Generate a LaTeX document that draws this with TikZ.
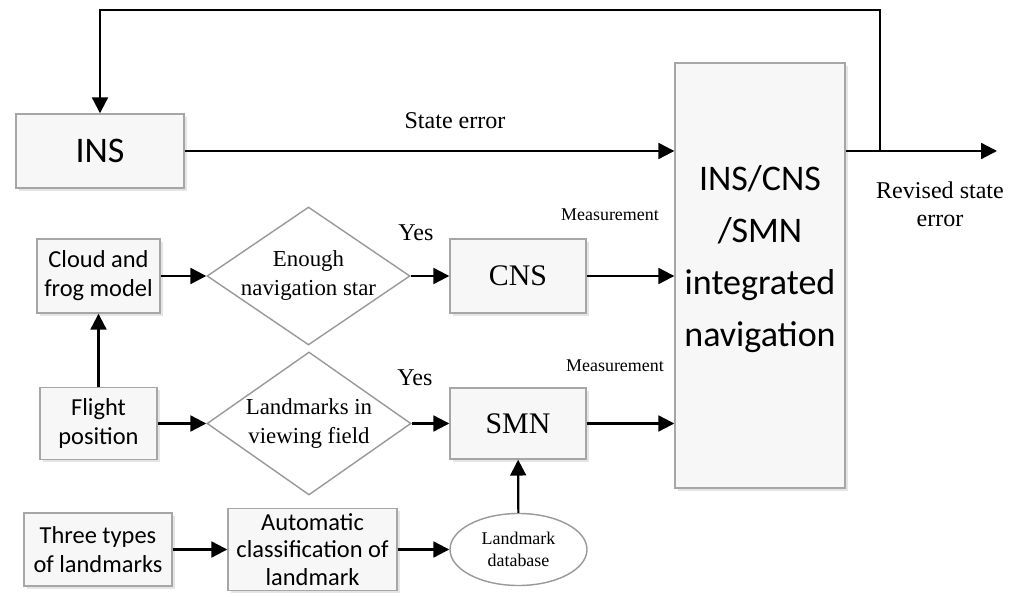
\documentclass[tikz,border=0pt]{standalone}
\usepackage{fontspec}
\setmainfont{Liberation Serif}
\newfontfamily\boxfont{Carlito}
\usetikzlibrary{shapes.geometric,arrows.meta,shadows}

\begin{document}
\begin{tikzpicture}[
  box/.style={draw=gray!70,fill=gray!6,line width=0.8pt,align=center,inner sep=2pt,
    drop shadow={shadow xshift=1.5pt,shadow yshift=-1.5pt,fill=gray!50,opacity=0.4}},
  sansbox/.style={box,font=\boxfont\fontsize{13.9}{16.5}\selectfont},
  serifbox/.style={box,font=\fontsize{17}{20}\selectfont},
  decision/.style={diamond,draw=gray!80,line width=0.8pt,inner sep=-4pt,align=center,
    font=\fontsize{13}{16.5}\selectfont},
  arr/.style={-{Triangle[length=9pt,width=9pt]},line width=1.25pt},
  small/.style={font=\fontsize{10.2}{12.5}\selectfont,align=center},
  lbl/.style={font=\fontsize{13.7}{16}\selectfont,align=center}
]
\useasboundingbox (0,0) rectangle (20.38,11.92);
% main blocks
\node[box,minimum width=3.36cm,minimum height=1.48cm,font=\boxfont\fontsize{20.5}{24}\selectfont] (ins) at (2.0,8.90) {INS};
\node[box,minimum width=3.4cm,minimum height=8.5cm] (integ) at (15.2,6.41) {};
\node[align=center,font=\boxfont\fontsize{20.5}{29.6}\selectfont] (integtext) at (15.2,6.73) {INS/CNS\\/SMN\\integrated\\navigation};
% left column
\node[sansbox,minimum width=2.46cm,minimum height=1.48cm] (cloud) at (1.97,6.40) {Cloud and\\frog model};
\node[sansbox,minimum width=2.34cm,minimum height=1.44cm] (flight) at (1.97,3.45) {Flight\\position};
\node[sansbox,minimum width=2.96cm,minimum height=1.46cm] (three) at (1.96,0.93) {Three types\\of landmarks};
\node[sansbox,minimum width=3.38cm,minimum height=1.64cm,inner sep=0pt,font=\boxfont\fontsize{13.9}{15.6}\selectfont] (auto) at (6.25,0.93) {Automatic\\classification of\\landmark};
% decisions
\node[decision,aspect=1.47,minimum width=4.06cm,minimum height=2.76cm] (enough) at (6.17,6.40) {Enough\\navigation star};
\node[decision,aspect=1.43,minimum width=4.08cm,minimum height=2.86cm] (landm) at (6.18,3.45) {Landmarks in\\viewing field};
% sensors
\node[serifbox,minimum width=2.72cm,minimum height=1.48cm] (cns) at (10.36,6.40) {CNS};
\node[serifbox,minimum width=2.72cm,minimum height=1.42cm] (smn) at (10.36,3.45) {SMN};
\node[ellipse,draw=gray!80,line width=0.8pt,fill=white,minimum width=2.74cm,minimum height=1.44cm,inner sep=0pt,small] (db) at (10.37,0.93) {Landmark\\database};
% labels
\node[lbl] (staterr) at (9.1,9.5) {State error};
\node[lbl] (yes1) at (8.32,7.26) {Yes};
\node[lbl] (yes2) at (8.30,4.36) {Yes};
\node[small] (meas1) at (12.2,7.62) {Measurement};
\node[small] (meas2) at (12.3,4.6) {Measurement};
\node[lbl] (revised) at (18.8,7.84) {Revised state\\error};
% connectors
\coordinate (out) at (19.94,8.90);
\coordinate (fbtop) at (17.6,11.72);
\draw[arr] (ins.east) -- (ins.east -| integ.west);
\draw[arr] (ins -| integ.east) -- (out);
\draw[arr] (fbtop |- out) -- (fbtop) -| (ins.north);
\draw[arr] (flight) -- (cloud);
\draw[arr] (cloud) -- (enough);
\draw[arr] (enough) -- (cns);
\draw[arr] (cns) -- (cns -| integ.west);
\draw[arr] (flight) -- (landm);
\draw[arr] (landm) -- (smn);
\draw[arr] (smn) -- (smn -| integ.west);
\draw[arr] (three) -- (auto);
\draw[arr] (auto) -- (db);
\draw[arr] (db) -- (smn);
\end{tikzpicture}
\end{document}
